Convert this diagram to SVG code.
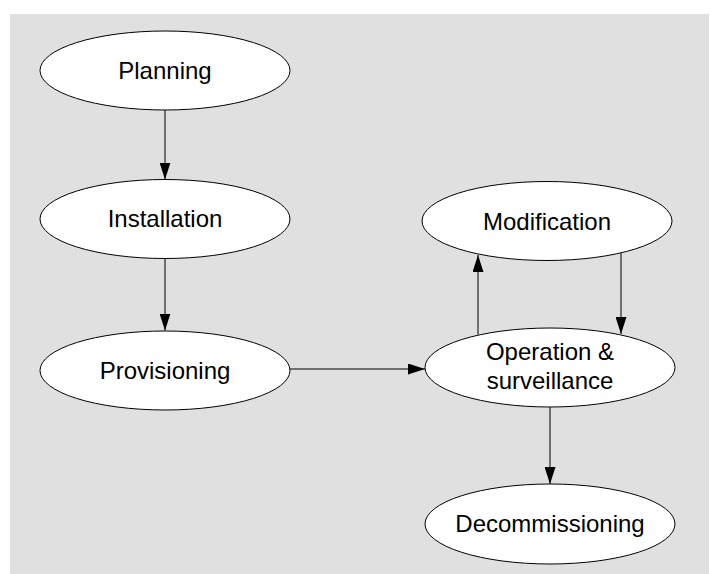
<svg xmlns="http://www.w3.org/2000/svg" width="711" height="574" viewBox="0 0 711 574">
<style>
.node ellipse{fill:#ffffff;stroke:#000000;stroke-width:1}
.node text{font-family:"Liberation Sans",Arial,sans-serif;font-size:24px;fill:#000000;text-anchor:middle}
.edges line{stroke:#000000;stroke-width:1;marker-end:url(#arrow)}
</style>
<defs>
<marker id="arrow" markerWidth="17" markerHeight="11" refX="17" refY="5.5" orient="auto" markerUnits="userSpaceOnUse">
<path d="M0,0 L17,5.5 L0,11 Z" fill="#000000"/>
</marker>
</defs>
<rect x="0" y="0" width="711" height="574" fill="#ffffff"/>
<rect x="10" y="14" width="699" height="560" fill="#e0e0e0"/>
<g class="edges" id="connectors">
<line x1="165" y1="110" x2="165" y2="179.5"/>
<line x1="165" y1="258.5" x2="165" y2="330.5"/>
<line x1="290" y1="369" x2="425" y2="369"/>
<line x1="478" y1="334.5" x2="478" y2="255"/>
<line x1="621" y1="253" x2="621" y2="334"/>
<line x1="550" y1="406.5" x2="550" y2="484"/>
</g>
<g class="node" id="planning"><ellipse cx="165" cy="70.5" rx="125" ry="39.5"/><text x="165" y="78.5">Planning</text></g>
<g class="node" id="installation"><ellipse cx="165" cy="219" rx="125" ry="39.5"/><text x="165" y="227">Installation</text></g>
<g class="node" id="provisioning"><ellipse cx="165" cy="370.5" rx="125" ry="39.5"/><text x="165" y="378.5">Provisioning</text></g>
<g class="node" id="modification"><ellipse cx="547" cy="221" rx="125" ry="39.5"/><text x="547" y="229.5">Modification</text></g>
<g class="node" id="operation"><ellipse cx="550" cy="367.5" rx="125" ry="39.5"/><text x="550" y="360">Operation &amp;</text><text x="550" y="388.5">surveillance</text></g>
<g class="node" id="decommissioning"><ellipse cx="550" cy="524" rx="125" ry="40"/><text x="550" y="532">Decommissioning</text></g>
</svg>
